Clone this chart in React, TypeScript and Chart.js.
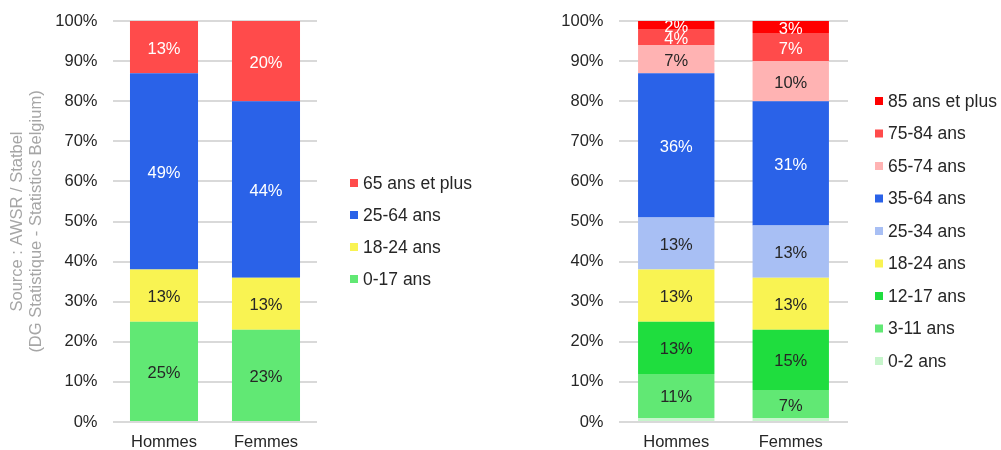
import React, { useEffect, useRef } from "react";
import { Chart, registerables } from "chart.js";

Chart.register(...registerables);

const FONT = '"Liberation Sans", Arial, Helvetica, sans-serif';
const TEXT_DARK = "#262626";

const sexes = ["Hommes", "Femmes"];

// Broad age groups, share of population (%)
const broadGroups = ["0-17 ans", "18-24 ans", "25-64 ans", "65 ans et plus"];
const broadHommes = [25, 13, 49, 13];
const broadFemmes = [23, 13, 44, 20];
const broadColors = ["#61E874", "#F9F352", "#2A62E8", "#FF4B4B"];
const broadLabelColors = [TEXT_DARK, TEXT_DARK, "#FFFFFF", "#FFFFFF"];

// Detailed age groups, share of population (%)
const detailGroups = [
  "0-2 ans",
  "3-11 ans",
  "12-17 ans",
  "18-24 ans",
  "25-34 ans",
  "35-64 ans",
  "65-74 ans",
  "75-84 ans",
  "85 ans et plus",
];
const detailHommes = [1, 11, 13, 13, 13, 36, 7, 4, 2];
const detailFemmes = [1, 7, 15, 13, 13, 31, 10, 7, 3];
const detailColors = [
  "#C6F5CB",
  "#61E874",
  "#1FDD3E",
  "#F9F352",
  "#A8BFF4",
  "#2A62E8",
  "#FFB3B3",
  "#FF4B4B",
  "#FF0000",
];
const detailLabelColors = [
  TEXT_DARK,
  TEXT_DARK,
  TEXT_DARK,
  TEXT_DARK,
  TEXT_DARK,
  "#FFFFFF",
  TEXT_DARK,
  "#FFFFFF",
  "#FFFFFF",
];

const yTickValues = [0, 10, 20, 30, 40, 50, 60, 70, 80, 90, 100];
const sourceLines = ["Source : AWSR / Statbel", "(DG Statistique - Statistics Belgium)"];

// Percentage written in the middle of each stacked segment
const valueLabels = {
  id: "valueLabels",
  afterDatasetsDraw(chart: any, _args: any, opts: any) {
    const { ctx, chartArea } = chart;
    ctx.save();
    ctx.beginPath();
    ctx.rect(
      chartArea.left,
      chartArea.top,
      chartArea.right - chartArea.left,
      chartArea.bottom - chartArea.top
    );
    ctx.clip();
    ctx.font = `16.5px ${FONT}`;
    ctx.textAlign = "center";
    ctx.textBaseline = "middle";
    chart.data.datasets.forEach((ds: any, di: number) => {
      const meta = chart.getDatasetMeta(di);
      meta.data.forEach((el: any, i: number) => {
        const v = ds.data[i];
        if (v < opts.minValue) return;
        const p = el.getProps(["x", "y", "base"], true);
        ctx.fillStyle = opts.colors[di];
        ctx.fillText(`${v}%`, p.x, (p.y + p.base) / 2 + 2);
      });
    });
    ctx.restore();
  },
};

// Legend column to the right of the plot, top series first
const sideLegend = {
  id: "sideLegend",
  afterDraw(chart: any, _args: any, opts: any) {
    const { ctx, chartArea } = chart;
    const items = chart.data.datasets
      .map((ds: any) => ({ label: ds.label, color: ds.backgroundColor }))
      .reverse();
    const n = items.length;
    const x = chartArea.right + opts.gap;
    ctx.save();
    ctx.font = `${opts.fontSize}px ${FONT}`;
    ctx.textAlign = "left";
    ctx.textBaseline = "middle";
    items.forEach((it: any, i: number) => {
      const y = opts.centerY + (i - (n - 1) / 2) * opts.spacing;
      ctx.fillStyle = it.color;
      ctx.fillRect(x, y - 4, 8, 8);
      ctx.fillStyle = TEXT_DARK;
      ctx.fillText(it.label, x + 13, y + 1);
    });
    ctx.restore();
  },
};

type PanelProps = {
  groups: string[];
  hommes: number[];
  femmes: number[];
  colors: string[];
  labelColors: string[];
  width: number;
  axisWidth: number;
  padRight: number;
  legendGap: number;
  legendSpacing: number;
  title?: string[];
};

function StackedPanel(props: PanelProps) {
  const ref = useRef<HTMLCanvasElement | null>(null);

  useEffect(() => {
    if (!ref.current) return;
    const datasets = props.groups.map((g, i) => ({
      label: g,
      data: [props.hommes[i], props.femmes[i]],
      backgroundColor: props.colors[i],
      borderWidth: 0,
      barPercentage: 0.667,
      categoryPercentage: 1,
    }));

    const chart = new Chart(ref.current, {
      type: "bar",
      data: { labels: sexes, datasets },
      plugins: [valueLabels, sideLegend],
      options: {
        responsive: false,
        animation: false,
        devicePixelRatio: 1,
        layout: { padding: { top: 21, right: props.padRight, bottom: 0, left: 0 } },
        plugins: {
          legend: { display: false },
          tooltip: { enabled: false },
          valueLabels: { colors: props.labelColors, minValue: 2 },
          sideLegend: {
            gap: props.legendGap,
            spacing: props.legendSpacing,
            centerY: 231,
            fontSize: 17.5,
          },
        } as any,
        scales: {
          x: {
            stacked: true,
            grid: { display: false, drawTicks: false },
            border: { display: false },
            ticks: {
              color: TEXT_DARK,
              padding: 11,
              font: { family: FONT, size: 16.5 },
            },
            afterFit: (s: any) => {
              s.height = 28;
            },
          },
          y: {
            stacked: true,
            min: 0,
            max: 100,
            afterBuildTicks: (s: any) => {
              s.ticks = yTickValues.map((v) => ({ value: v }));
            },
            grid: { color: "#D9D9D9", lineWidth: 2, drawTicks: false },
            border: { display: false },
            ticks: {
              color: TEXT_DARK,
              padding: 15.5,
              font: { family: FONT, size: 16.5 },
              callback: (v: any) => `${v}%`,
            },
            title: props.title
              ? {
                  display: true,
                  text: props.title,
                  color: "#A6A6A6",
                  font: { family: FONT, size: 16.5, lineHeight: 1.15 },
                  padding: { top: 7.5, bottom: 0 },
                }
              : { display: false },
            afterFit: (s: any) => {
              s.width = props.axisWidth;
              s.paddingTop = 0;
              s.paddingBottom = 0;
            },
          },
        },
      } as any,
    });
    return () => chart.destroy();
  }, []);

  return (
    <canvas
      ref={ref}
      width={props.width}
      height={450}
      style={{ display: "block", width: props.width, height: 450 }}
    />
  );
}

export default function App() {
  return (
    <div
      style={{
        position: "absolute",
        left: 0,
        top: 0,
        width: 1001,
        height: 450,
        display: "flex",
        background: "#FFFFFF",
      }}
    >
      <StackedPanel
        groups={broadGroups}
        hommes={broadHommes}
        femmes={broadFemmes}
        colors={broadColors}
        labelColors={broadLabelColors}
        width={500}
        axisWidth={113}
        padRight={183}
        legendGap={33}
        legendSpacing={32}
        title={sourceLines}
      />
      <StackedPanel
        groups={detailGroups}
        hommes={detailHommes}
        femmes={detailFemmes}
        colors={detailColors}
        labelColors={detailLabelColors}
        width={501}
        axisWidth={119}
        padRight={153}
        legendGap={27}
        legendSpacing={32.5}
      />
    </div>
  );
}
